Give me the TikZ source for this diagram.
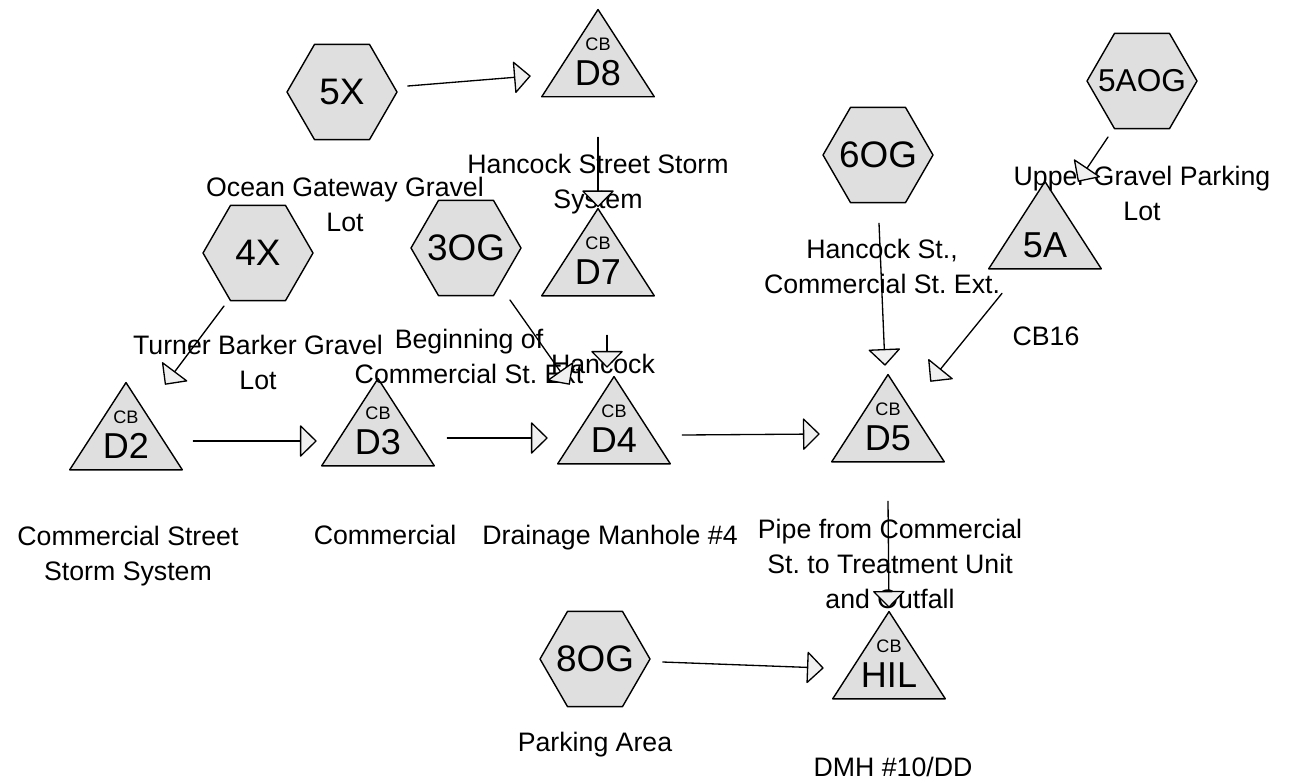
\documentclass[tikz,border=0pt]{standalone}
\usepackage{fontspec}
\setmainfont{Liberation Sans}
\usetikzlibrary{arrows.meta,shapes.geometric}
\frenchspacing

\colorlet{basinfill}{gray!25}
\colorlet{tipfill}{gray!12}
\newcommand\cbtag[1]{{\fontsize{10.3}{12}\selectfont CB}\\#1}

\tikzset{
  lot/.style={regular polygon, regular polygon sides=6, minimum size=2.2cm,
    inner xsep=-20pt, inner ysep=0pt, draw, line width=0.8pt, fill=basinfill,
    font=\fontsize{21}{21}\selectfont},
  basin/.style={minimum width=2.28cm, minimum height=1.78cm, inner sep=0pt,
    path picture={\draw[line width=0.8pt, line join=round, fill=basinfill]
      ([shift={(0.4pt,0.4pt)}]path picture bounding box.south west)
      -- ([shift={(-0.4pt,0.4pt)}]path picture bounding box.south east)
      -- ([yshift=-0.6pt]path picture bounding box.north) -- cycle;}},
  cbid/.style={align=center, inner sep=0pt, yshift=-0.175cm,
    font=\fontsize{20.5}{20.2}\selectfont},
  note/.style={align=center, inner sep=0pt, font=\fontsize{15.2}{19.9}\selectfont},
  flow/.style={line width=0.75pt,
    -{Triangle[length=3.4mm, width=6.6mm, fill=tipfill, line join=round]}},
}

\begin{document}
\begin{tikzpicture}[x=0.02cm,y=-0.02cm,line cap=round,line join=round]
  \useasboundingbox (0,0) rectangle (1291,782);

  \node[lot] (5X) at (342,92) {5X};
  \node[lot] (4X) at (258,253) {4X};
  \node[lot] (3OG) at (466,248) {3OG};
  \node[lot] (6OG) at (878,155) {6OG};
  \node[lot,font=\fontsize{18}{18}\selectfont] (5AOG) at (1142,81) {5AOG};
  \node[lot] (8OG) at (595,659) {8OG};

  \node[basin,label={[cbid]center:\cbtag{D8}}] (D8) at (598,53) {};
  \node[basin,label={[cbid]center:\cbtag{D7}}] (D7) at (598,252) {};
  \node[basin,label={[cbid]center:\cbtag{D2}}] (D2) at (126,426) {};
  \node[basin,label={[cbid]center:\cbtag{D3}}] (D3) at (378,422) {};
  \node[basin,label={[cbid]center:\cbtag{D4}}] (D4) at (614,420) {};
  \node[basin,label={[cbid]center:\cbtag{D5}}] (D5) at (888,418) {};
  \node[basin,label={[cbid]center:\cbtag{HIL}}] (HIL) at (889,655) {};
  \node[basin,label={[cbid,yshift=-0.225cm]center:5A}] (5A) at (1045,225) {};

  \node[note] (ocean) at (345,204) {Ocean Gateway Gravel\\Lot};
  \node[note] (hancockss) at (598,184) {Hancock Street Storm\\System};
  \node[note] (upper) at (1142,193) {Upper Gravel Parking\\Lot};
  \node[note] (hancockst) at (882,266) {Hancock St.,\\Commercial St. Ext.};
  \node[note] (cb16) at (1046,336) {CB16};
  \node[note] (turner) at (258,362) {Turner Barker Gravel\\Lot};
  \node[note] (beginning) at (469,356) {Beginning of\\Commercial St. Ext};
  \node[note] (hancock) at (603,364) {Hancock};
  \node[note] (commst) at (128,556) {Commercial Street\\Storm System};
  \node[note] (commercial) at (385,535) {Commercial};
  \node[note] (manhole) at (610,538) {Drainage Manhole \#4};
  \node[note] (pipe) at (890,564) {Pipe from Commercial\\St. to Treatment Unit\\and Outfall};
  \node[note] (parking) at (595,745) {Parking Area};
  \node[note] (dmh) at (893,767) {DMH \#10/DD};

  \draw[flow] ([shift={(10,-6)}]5X.east) -- ([shift={(-10,23)}]D8.west);
  \draw[flow] ([shift={(0,39.5)}]D8.south) -- (D7.north);
  \draw[flow] ([shift={(9,38.5)}]D7.south) -- ([shift={(-7,-7.5)}]D4.north);
  \draw[flow] ([shift={(44,52)}]3OG.center) -- ([shift={(13,9.5)}]D4.north west);
  \draw[flow] ([shift={(-34,53)}]4X.center) -- ([shift={(39,3.5)}]D2.north);
  \draw[flow] ([shift={(10,15)}]D2.east) -- ([shift={(-4,19)}]D3.west);
  \draw[flow] ([shift={(12,16)}]D3.east) -- ([shift={(-9,18)}]D4.west);
  \draw[flow] ([shift={(11,15)}]D4.east) -- ([shift={(-11,16)}]D5.west);
  \draw[flow] ([shift={(1,20)}]6OG.south) -- ([shift={(-3,-7.5)}]D5.north);
  \draw[flow] ([shift={(-43,23.5)}]5A.south) -- ([shift={(-15,8.5)}]D5.north east);
  \draw[flow] ([shift={(-34,56)}]5AOG.center) -- ([shift={(33,1.5)}]5A.north);
  \draw[flow] ([shift={(0,38.5)}]D5.south) -- ([shift={(0,-2.5)}]HIL.north);
  \draw[flow] ([shift={(12,3)}]8OG.east) -- ([shift={(-8,13)}]HIL.west);
\end{tikzpicture}
\end{document}
